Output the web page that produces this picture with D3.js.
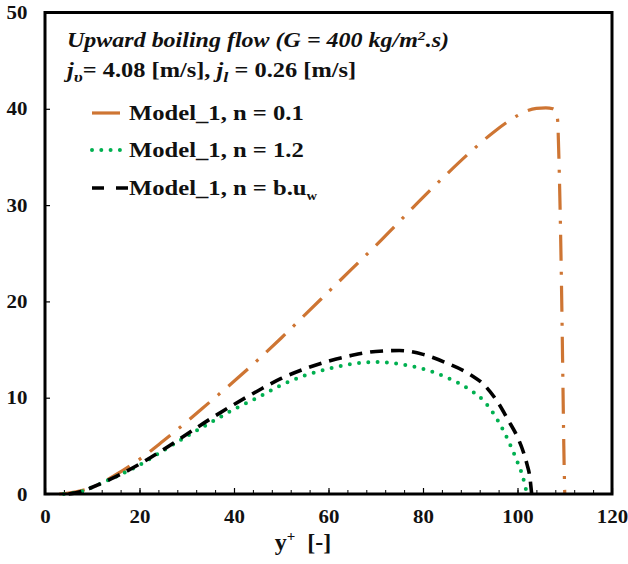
<!DOCTYPE html>
<html><head><meta charset="utf-8">
<script src="https://cdn.jsdelivr.net/npm/d3@7"></script>
<style>body{margin:0;background:#fff}svg{display:block}text{font-family:"Liberation Serif","Times New Roman",serif;font-weight:bold}</style>
</head><body>
<svg id="c" width="628" height="564"></svg>
<script>
// data
const xTicks = [0, 20, 40, 60, 80, 100, 120];
const yTicks = [0, 10, 20, 30, 40, 50];
const seriesNames = ["Model_1, n = 0.1", "Model_1, n = 1.2", "Model_1, n = b.u"];
const n01X = [3, 5, 10, 15, 20, 25, 30, 35, 40, 45, 50, 55, 60, 65, 70, 75, 80, 85, 90, 95, 100, 102, 104, 106, 107.5, 108.2, 108.5, 108.7, 109, 109.3, 109.6, 109.8, 110];
const n01Y = [0, 0.1, 0.7, 2.0, 3.6, 5.5, 7.5, 9.6, 11.7, 13.9, 16.2, 18.6, 21.0, 23.4, 25.8, 28.3, 30.8, 33.2, 35.5, 37.6, 39.3, 39.8, 40.05, 40.1, 40.0, 39.6, 38.8, 36, 30, 22, 12, 5, 0];
const n12X = [4, 8, 10, 15, 20, 25, 30, 35, 40, 45, 50, 55, 60, 65, 70, 75, 80, 85, 90, 93, 96, 98, 100, 101, 102];
const n12Y = [0, 0.3, 0.7, 1.8, 3.0, 4.5, 6.0, 7.4, 8.8, 10.0, 11.3, 12.3, 13.0, 13.5, 13.7, 13.5, 13.0, 12.1, 10.8, 9.6, 7.5, 5.6, 3.3, 2.0, 0];
const nbX = [5, 8, 10, 15, 20, 25, 30, 35, 40, 45, 50, 55, 60, 65, 70, 75, 80, 85, 90, 93, 96, 98, 100, 101, 102, 102.6, 103];
const nbY = [0, 0.3, 0.7, 1.8, 3.1, 4.6, 6.2, 7.8, 9.3, 10.7, 12.0, 13.0, 13.8, 14.4, 14.8, 14.9, 14.5, 13.6, 12.4, 11.3, 9.4, 7.7, 5.9, 4.7, 3.1, 1.8, 0];

const svg = d3.select("#c");
const L = 45, R = 612, T = 12.5, B = 494;
const x = d3.scaleLinear().domain([0, 120]).range([L, R]);
const y = d3.scaleLinear().domain([0, 50]).range([B, T]);

function styleTicks(g) {
  g.select(".domain").remove();
  g.selectAll("line").attr("stroke", "#000").attr("stroke-width", 1.2);
  g.selectAll("text").attr("font-size", 19).attr("fill", "#111")
    .attr("font-family", "Liberation Serif").attr("font-weight", "bold");
}

// minor ticks (bottom, every 4 units, inward)
const minor = d3.range(4, 120, 4);
svg.append("g").attr("transform", `translate(0,${B})`)
  .call(d3.axisBottom(x).tickValues(minor).tickSize(-4).tickFormat(""))
  .call(g => g.select(".domain").remove())
  .call(g => g.selectAll("line").attr("stroke", "#000").attr("stroke-width", 1));
svg.append("g").attr("transform", `translate(0,${B})`)
  .call(d3.axisBottom(x).tickValues(xTicks).tickSize(-6).tickPadding(16))
  .call(styleTicks)
  .call(g => g.selectAll("text").attr("transform", "scale(1.1,1)"));
svg.append("g").attr("transform", `translate(${L},0)`)
  .call(d3.axisLeft(y).tickValues(yTicks).tickSize(-5).tickPadding(16))
  .call(styleTicks)
  .call(g => g.selectAll("text").attr("transform", "scale(1.1,1)"));

const line = d3.line().x(d => x(d[0])).y(d => y(d[1])).curve(d3.curveMonotoneX);
const styles = [
  {c: "#CE7533", w: 3.2, dash: "26,11,3,11", cap: "butt"},
  {c: "#00B050", w: 4, dash: "0,9.3", cap: "round"},
  {c: "#000000", w: 3.6, dash: "13,8", cap: "butt"}
];
const data = [d3.zip(n01X, n01Y), d3.zip(n12X, n12Y), d3.zip(nbX, nbY)];
data.forEach((d, i) => {
  svg.append("path").datum(d).attr("d", line).attr("fill", "none")
    .attr("stroke", styles[i].c).attr("stroke-width", styles[i].w)
    .attr("stroke-dasharray", styles[i].dash).attr("stroke-linecap", styles[i].cap);
});

// frame
svg.append("rect").attr("x", L).attr("y", T).attr("width", R - L).attr("height", B - T)
  .attr("fill", "none").attr("stroke", "#000").attr("stroke-width", 3);

function addText(px, py, sx, size) {
  return svg.append("text").attr("transform", `translate(${px},${py}) scale(${sx},1)`)
    .attr("font-size", size).attr("fill", "#111");
}

// title lines
addText(67, 47, 1.2, 20).attr("font-style", "italic")
  .html('Upward boiling flow (G = 400 kg/m<tspan dy="-7" font-size="13">2</tspan><tspan dy="7">.s)</tspan>');
addText(67, 77, 1.22, 20)
  .html('<tspan font-style="italic">j</tspan><tspan font-style="italic" font-size="15" dy="5">υ</tspan><tspan dy="-5">= 4.08 [m/s], </tspan><tspan font-style="italic">j</tspan><tspan font-style="italic" font-size="15" dy="5">l</tspan><tspan dy="-5"> = 0.26 [m/s]</tspan>');

// legend
const legY = [113, 150, 188];
seriesNames.forEach((n, i) => {
  const x1 = i === 0 ? 120 : (i === 1 ? 126 : 128);
  svg.append("line").attr("x1", 92).attr("x2", x1).attr("y1", legY[i]).attr("y2", legY[i])
    .attr("stroke", styles[i].c).attr("stroke-width", styles[i].w)
    .attr("stroke-dasharray", i === 0 ? null : (i === 2 ? "12,12" : styles[i].dash))
    .attr("stroke-linecap", styles[i].cap);
  const t = addText(129, legY[i] + 7, 1.12, 22).text(n);
  if (i === 2) t.append("tspan").attr("font-size", 13).attr("dy", 5).text("w");
});

// axis title
svg.append("text").attr("x", 303).attr("y", 550).attr("text-anchor", "middle").attr("font-size", 24).attr("fill", "#111")
  .attr("xml:space", "preserve")
  .html('y<tspan dy="-9" font-size="15">+</tspan><tspan dy="9">  [-]</tspan>');
</script>
</body></html>
